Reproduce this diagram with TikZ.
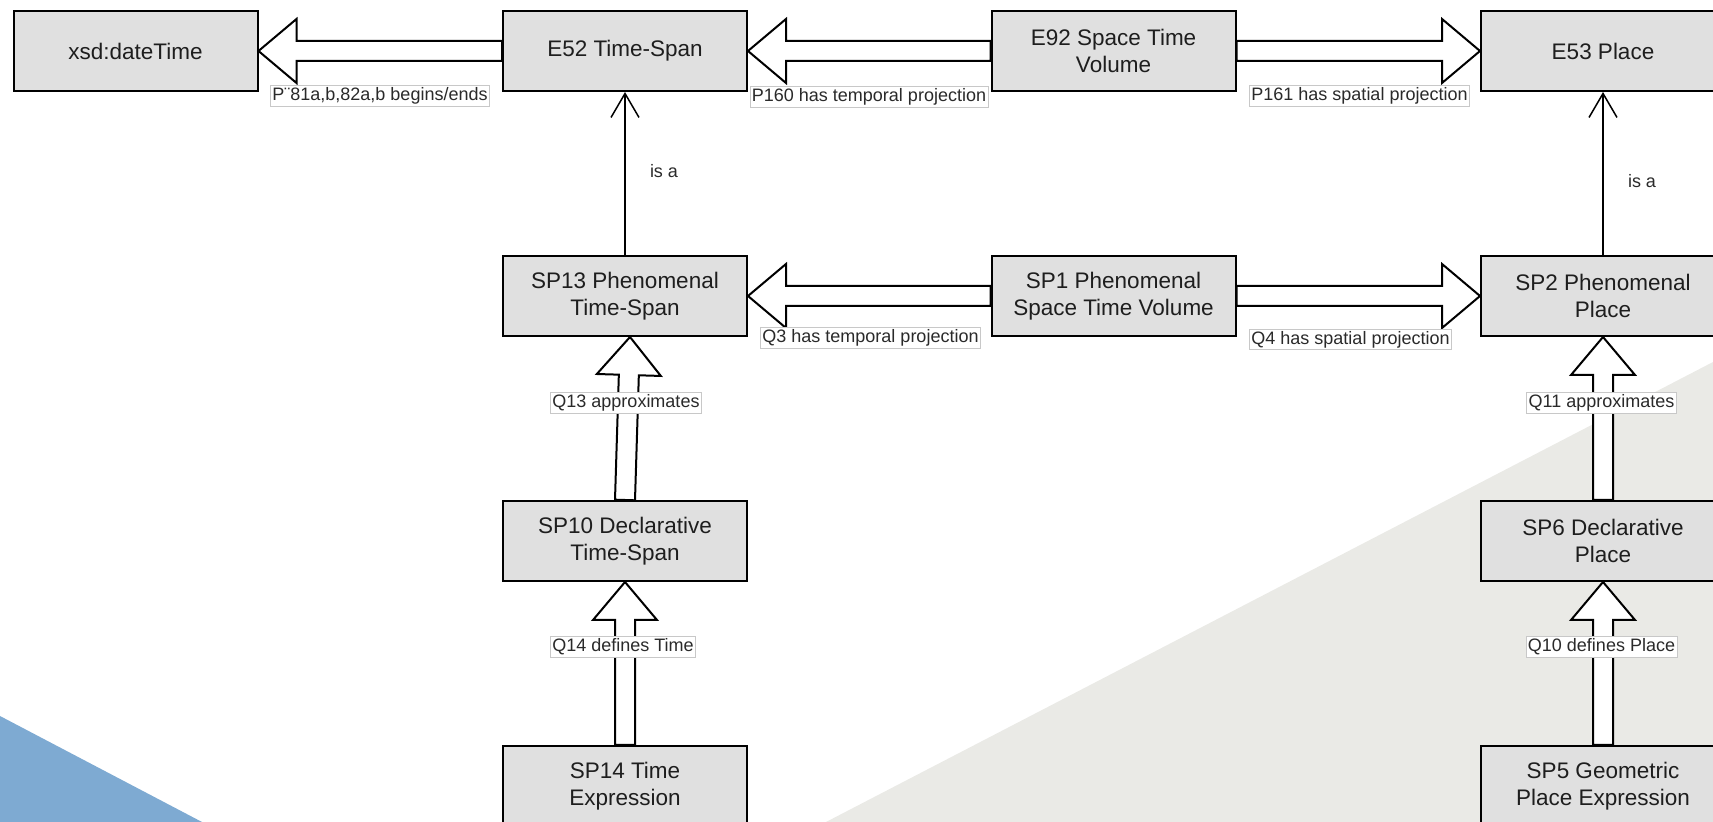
\documentclass[tikz,border=0pt]{standalone}
\usepackage{fontspec}
\setmainfont{Liberation Sans}
\usetikzlibrary{arrows.meta,calc}
\definecolor{boxfill}{HTML}{E0E0E0}
\definecolor{bgblue}{HTML}{7EAAD2}
\definecolor{bggray}{HTML}{EAEAE6}
\definecolor{lblborder}{HTML}{C8C8C8}
\definecolor{txt}{HTML}{1E1E1E}
\definecolor{lbltxt}{HTML}{2A2A2A}
\newcommand\blockarr[2]{%
  \path (#1) coordinate (ba-s) (#2) coordinate (ba-e);
  \path ($(ba-e)!19pt!(ba-s)$) coordinate (ba-h);
  \draw[blk] ($(ba-s)!5pt!90:(ba-e)$) -- ($(ba-h)!5pt!90:(ba-e)$) -- ($(ba-h)!16pt!90:(ba-e)$) -- (ba-e) -- ($(ba-h)!16pt!-90:(ba-e)$) -- ($(ba-h)!5pt!-90:(ba-e)$) -- ($(ba-s)!5pt!-90:(ba-e)$) -- cycle;
}
\begin{document}
\begin{tikzpicture}[x=0.5pt,y=-0.5pt,
  cls/.style={draw=black, line width=1pt, fill=boxfill, minimum width=122pt, minimum height=40pt, inner sep=0pt, align=center, text=txt, font=\fontsize{11.25}{13.5}\selectfont},
  lbl/.style={draw=lblborder, line width=0.4pt, fill=white, inner sep=1pt, text=lbltxt, font=\fontsize{9}{10.5}\selectfont},
  isalbl/.style={inner sep=0pt, text=lbltxt, font=\fontsize{9}{10.5}\selectfont},
  blk/.style={draw=black, line width=1pt, fill=white, line join=miter},
  isa/.style={draw=black, line width=0.75pt, -{Straight Barb[length=12pt,width=14pt]}},
]
\useasboundingbox (0,0) rectangle (1713,822);
\clip (0,0) rectangle (1713,822);
\fill[bggray] (826,822) -- (1713,362) -- (1713,822) -- cycle;
\fill[bgblue] (0,716) -- (202,822) -- (0,822) -- cycle;

\node[cls] (xsd) at (135.5,51) {xsd:dateTime};
\node[cls] (e52) at (625,51) {E52 Time-Span};
\node[cls] (e92) at (1113.5,51) {E92 Space Time\\Volume};
\node[cls] (e53) at (1603,51) {E53 Place};
\node[cls] (sp13) at (625,296) {SP13 Phenomenal\\Time-Span};
\node[cls] (sp1) at (1113.5,296) {SP1 Phenomenal\\Space Time Volume};
\node[cls] (sp2) at (1603,296) {SP2 Phenomenal\\Place};
\node[cls] (sp10) at (625,541) {SP10 Declarative\\Time-Span};
\node[cls] (sp6) at (1603,541) {SP6 Declarative\\Place};
\node[cls] (sp14) at (625,786) {SP14 Time\\Expression};
\node[cls] (sp5) at (1603,786) {SP5 Geometric\\Place Expression};

\blockarr{e52.west}{xsd.east}
\blockarr{e92.west}{e52.east}
\blockarr{e92.east}{e53.west}
\blockarr{sp1.west}{sp13.east}
\blockarr{sp1.east}{sp2.west}
\blockarr{sp10.north}{$(sp13.south)+(5,0)$}
\blockarr{sp14.north}{sp10.south}
\blockarr{sp6.north}{sp2.south}
\blockarr{sp5.north}{sp6.south}

\draw[isa] (sp13.north) -- (e52.south);
\draw[isa] (sp2.north) -- (e53.south);

\node[lbl] (l1) at (380,96) {P¨81a,b,82a,b begins/ends};
\node[lbl] (l2) at (869,97) {P160 has temporal projection};
\node[lbl] (l3) at (1359.5,96) {P161 has spatial projection};
\node[lbl] (l4) at (870.5,338) {Q3 has temporal projection};
\node[lbl] (l5) at (1350.5,339.5) {Q4 has spatial projection};
\node[lbl] (l6) at (626,403) {Q13 approximates};
\node[lbl] (l7) at (623,647) {Q14 defines Time};
\node[lbl] (l8) at (1601.5,403) {Q11 approximates};
\node[lbl] (l9) at (1601.5,647) {Q10 defines Place};
\node[isalbl] (l10) at (664,171) {is a};
\node[isalbl] (l11) at (1642,181) {is a};
\end{tikzpicture}
\end{document}
